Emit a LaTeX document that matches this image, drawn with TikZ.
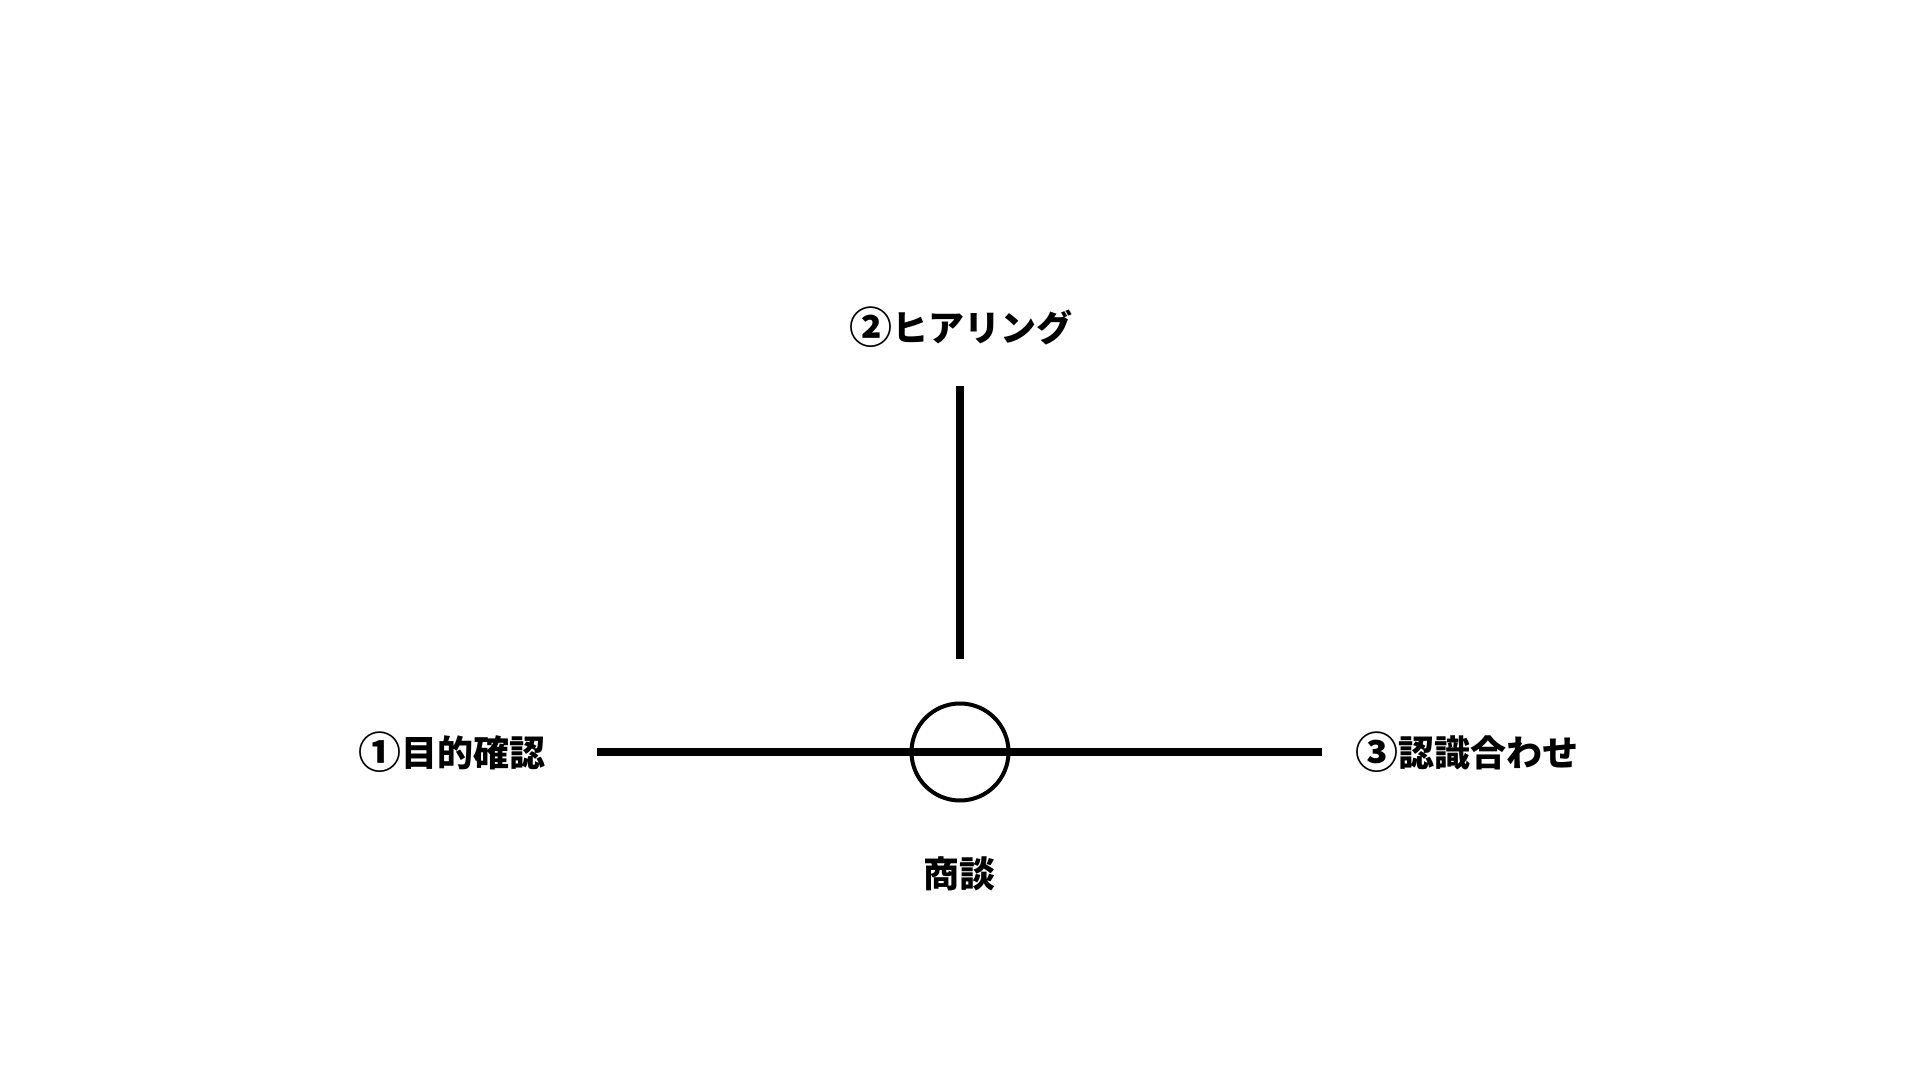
\documentclass[tikz,border=0pt]{standalone}
\usepackage{fontspec}
\setmainfont{Noto Sans CJK JP}
\newcommand{\cnum}[1]{\raisebox{-0.06em}{\fontsize{43}{43}\selectfont #1}}
\begin{document}
\begin{tikzpicture}[x=1pt,y=1pt,
  lbl/.style={font=\fontsize{36}{40}\selectfont\bfseries, inner sep=0pt, text=black},
  bar/.style={line width=8.5pt, black}]
\useasboundingbox[fill=white] (0,0) rectangle (1920,1080);
\coordinate (hl) at (597,328);
\coordinate (hr) at (1322,328);
\coordinate (vt) at (960,694);
\coordinate (vb) at (960,421);
\node[circle, draw=black, line width=4pt, minimum size=97pt, inner sep=0pt] (c) at (960,328) {};
\draw[bar] (hl) -- (hr);
\draw[bar] (vt) -- (vb);
\node[lbl] (top) at (961,753) {\cnum{②}ヒアリング};
\node[lbl] (left) at (452,328) {\cnum{①}目的確認};
\node[lbl] (right) at (1467,328) {\cnum{③}認識合わせ};
\node[lbl] (bot) at (959,206) {商談};
\end{tikzpicture}
\end{document}
